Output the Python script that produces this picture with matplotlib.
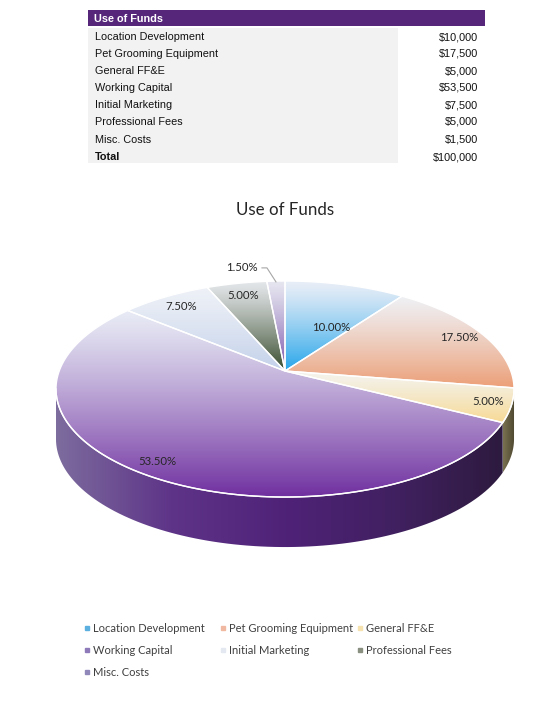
import numpy as np
import matplotlib
matplotlib.use("Agg")
import matplotlib.pyplot as plt
from matplotlib.patches import Polygon, Rectangle
from matplotlib.colors import to_rgb

# data
categories = ["Location Development", "Pet Grooming Equipment", "General FF&E",
              "Working Capital", "Initial Marketing", "Professional Fees", "Misc. Costs"]
amounts = [10000, 17500, 5000, 53500, 7500, 5000, 1500]
table_values = ["$10,000", "$17,500", "$5,000", "$53,500", "$7,500", "$5,000", "$1,500"]
total_label = "$100,000"

# gradient colours of the top faces (pale top -> deep bottom)
top_light = ["#E9EEF7", "#EFF0F4", "#F4F3EE", "#E8EBF5", "#EEF1F7", "#E4E7EA", "#E6E6F0"]
top_dark = ["#27A6EA", "#EC9F77", "#F7D993", "#7030A0", "#C3D1EA", "#374B2C", "#7B55AC"]
legend_cols = ["#5BB0E0", "#F0B8A0", "#F6E2AE", "#8E7AB8", "#E4E8F0", "#8A9080", "#9088B8"]
side_cols = {1: ["#9A6A50", "#7A4E38"], 2: ["#7A7250", "#4C4630"]}

W, H = 543, 702
fig = plt.figure(figsize=(W / 100, H / 100), dpi=100)
ax = fig.add_axes([0, 0, 1, 1])

# ---- table on top ----
tf = "Liberation Sans"
ax.add_patch(Rectangle((88, 10), 397, 16, color="#55267A", lw=0))
ax.add_patch(Rectangle((88, 28), 310, 135, color="#F2F2F2", lw=0))
ax.text(94, 19, "Use of Funds", color="white", fontsize=7.8, fontweight="bold",
        family=tf, va="center")
row_y = [37, 54, 71, 88, 105, 122, 140, 157]
for i, (c, v) in enumerate(zip(categories + ["Total"], table_values + [total_label])):
    fw = "bold" if c == "Total" else "normal"
    ax.text(95, row_y[i], c, fontsize=7.8, family=tf, va="center", fontweight=fw,
            color="#111111")
    ax.text(478, row_y[i], v, fontsize=7.8, family=tf, va="center", ha="right",
            color="#111111")

# ---- title ----
ax.text(285, 210, "Use of Funds", fontsize=12.2, family="Lato", ha="center", va="center",
        color="#262626")

# ---- 3d-ish pie, simple perspective of a tilted disc ----
ox, oy = 285, 371          # projected centre of the disc
sx, sy = 225.8, 105.0      # pixel scale across / along the view
ecc = 0.167                # perspective strength
depth = 50


def proj(t, r=1.0):
    t = np.radians(t)
    k = 1.0 / (1.0 + ecc * r * np.sin(t))
    return ox + sx * r * np.cos(t) * k, oy - sy * r * np.sin(t) * k


def grad_fill(pts, cols, horizontal=False, gamma=1.0, extent=None):
    poly = Polygon(pts, closed=True, transform=ax.transData)
    n = 256
    s = np.linspace(0, 1, n) ** gamma
    stops = np.array([to_rgb(c) for c in cols])
    pos = np.linspace(0, 1, len(stops))
    img = np.stack([np.interp(s, pos, stops[:, k]) for k in range(3)], axis=-1)
    img = img[None, :, :] if horizontal else img[:, None, :]
    if extent is None:
        x0, y0 = pts.min(axis=0)
        x1, y1 = pts.max(axis=0)
        extent = (x0, x1, y1, y0)
    im = ax.imshow(img, extent=extent, origin="upper", aspect="auto",
                   interpolation="bilinear", zorder=2)
    im.set_clip_path(poly)


total = sum(amounts)
fracs = np.array(amounts) / total
ends = 90 - 360 * np.cumsum(fracs)
starts = np.concatenate([[90], ends[:-1]])

# visible part of the wall lies between the two silhouette points
sil = np.degrees(np.arcsin(ecc))
front_a, front_b = -sil, -180 + sil

wc_side = ["#7D6C9E", "#5E3488", "#4F2278", "#40205F", "#2B1A3B"]
x_left, _ = proj(180 + sil)
x_right, _ = proj(-sil)
for i, (t1, t2) in enumerate(zip(starts, ends)):
    a, b = min(t1, front_a), max(t2, front_b)
    if a <= b:
        continue
    th = np.linspace(a, b, 100)
    xs, ys = proj(th)
    pts = np.column_stack([np.concatenate([xs, xs[::-1]]),
                           np.concatenate([ys, (ys + depth)[::-1]])])
    if i == 3:
        grad_fill(pts, wc_side, horizontal=True,
                  extent=(x_left, x_right, oy + 200, oy - 100))
    else:
        grad_fill(pts, side_cols.get(i, ["#555555", "#333333"]), horizontal=True)
    ax.plot(xs, ys, color="white", lw=1.0, zorder=4)

# top faces
for i, (t1, t2) in enumerate(zip(starts, ends)):
    th = np.linspace(t1, t2, 120)
    xs, ys = proj(th)
    pts = np.column_stack([np.concatenate([[ox], xs]), np.concatenate([[oy], ys])])
    grad_fill(pts, [top_light[i], top_dark[i]], gamma=1.2)
    ax.add_patch(Polygon(pts, closed=True, fc="none", ec="white", lw=1.0, zorder=3))

# percentage labels (radius along the slice, small angular nudge)
lab_r = [0.5, 0.88, 0.9, 0.9, 0.85, 0.85]
lab_da = [-8, 0, 0, 0, 0, 0]
for i in range(len(amounts)):
    mid = (starts[i] + ends[i]) / 2
    txt = f"{fracs[i] * 100:.2f}%"
    if i < len(lab_r):
        lx, ly = proj(mid + lab_da[i], lab_r[i])
        ax.text(lx, ly, txt, fontsize=8.2, family="Lato", ha="center", va="center",
                color="#262626", zorder=5)
    else:
        px, py = proj(mid, 0.99)
        ax.text(px - 34, py - 14, txt, fontsize=8.2, family="Lato", ha="center",
                va="center", color="#262626", zorder=5)
        ax.plot([px - 14, px - 9, px], [py - 14, py - 14, py], color="#A6A6A6",
                lw=0.8, zorder=5)

# legend, laid out in rows like the original
leg_x = [87, 223, 360]
leg_y = [628, 650, 672]
for j, lab in enumerate(categories):
    lx, ly = leg_x[j % 3], leg_y[j // 3]
    ax.plot(lx, ly, ls="none", marker="s", ms=2.6, mfc=legend_cols[j],
            mec=legend_cols[j], zorder=5)
    ax.text(lx + 6, ly, lab, fontsize=8, family="Lato", va="center", color="#404040")

ax.set_xlim(0, W)
ax.set_ylim(H, 0)
ax.axis("off")
fig.savefig("out.png", dpi=100, facecolor="white")
